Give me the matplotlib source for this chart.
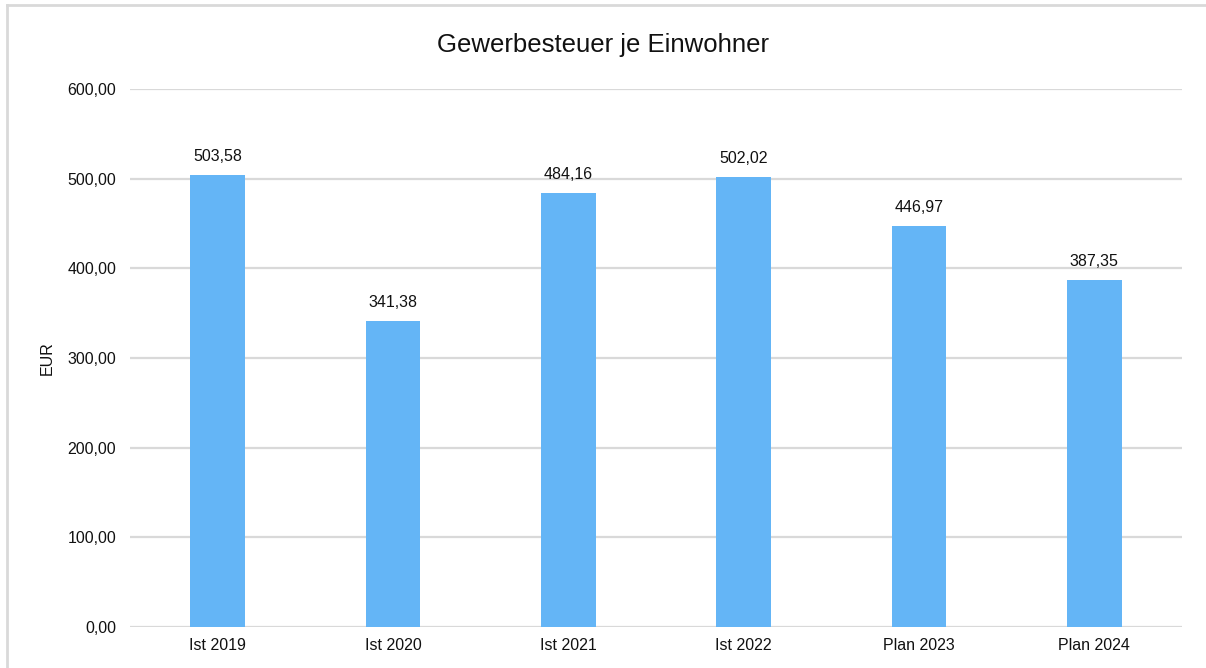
import matplotlib.pyplot as plt
from matplotlib.lines import Line2D

plt.rcParams["font.family"] = ["Liberation Sans", "DejaVu Sans"]

categories = ["Ist 2019", "Ist 2020", "Ist 2021", "Ist 2022", "Plan 2023", "Plan 2024"]
values = [503.58, 341.38, 484.16, 502.02, 446.97, 387.35]
yticks = [0, 100, 200, 300, 400, 500, 600]


def de_fmt(v):
    return f"{v:.2f}".replace(".", ",")


fig = plt.figure(figsize=(12.06, 6.68), dpi=100)
ax = fig.add_axes([130 / 1206, 1 - 627 / 668, 1052 / 1206, 538 / 668])

x = range(len(categories))
ax.bar(x, values, width=0.31, color="#64B5F6", zorder=3)
for i, v in enumerate(values):
    ax.annotate(de_fmt(v), (i, v), xytext=(0, 8), textcoords="offset points",
                ha="center", va="bottom", fontsize=11.5, color="#111111")

ax.set_xlim(-0.5, len(categories) - 0.5)
ax.set_ylim(0, 600)
ax.set_yticks(yticks)
ax.set_yticklabels([de_fmt(t) for t in yticks])
ax.set_xticks(list(x))
ax.set_xticklabels(categories)
ax.tick_params(length=0, labelsize=11.5, colors="#111111", pad=8)
ax.tick_params(axis="y", pad=10)
ax.yaxis.grid(True, color="#d9d9d9", linewidth=1.6, zorder=0)
for s in ax.spines.values():
    s.set_visible(False)
ax.set_ylabel("EUR", fontsize=11.5, labelpad=9, color="#111111")

fig.text(0.5, 1 - 45 / 668, "Gewerbesteuer je Einwohner", ha="center", va="center",
         fontsize=18.5, color="#111111")

# light frame around the chart (left and top edges visible)
fig.add_artist(Line2D([7 / 1206, 7 / 1206], [0, 1 - 5 / 668], transform=fig.transFigure,
                      color="#d9d9d9", linewidth=2))
fig.add_artist(Line2D([7 / 1206, 1], [1 - 5 / 668, 1 - 5 / 668], transform=fig.transFigure,
                      color="#d9d9d9", linewidth=2))

fig.savefig("out.png", dpi=100)
